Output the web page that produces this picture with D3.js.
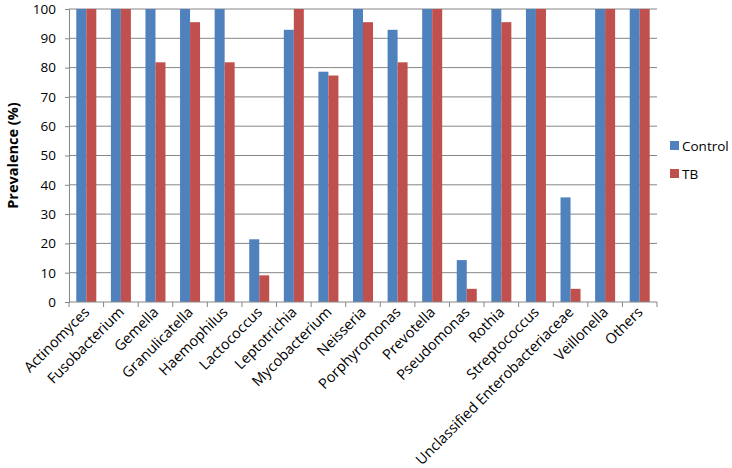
<!DOCTYPE html>
<html>
<head>
<meta charset="utf-8">
<script src="https://cdn.jsdelivr.net/npm/d3@7"></script>
<style>
  body { margin: 0; background: #fff; }
  svg { font-family: "Open Sans", "Noto Sans", sans-serif; }
</style>
</head>
<body>
<svg width="732" height="468"></svg>
<script>
const categories = ["Actinomyces", "Fusobacterium", "Gemella", "Granulicatella", "Haemophilus",
  "Lactococcus", "Leptotrichia", "Mycobacterium", "Neisseria", "Porphyromonas", "Prevotella",
  "Pseudomonas", "Rothia", "Streptococcus", "Unclassified Enterobacteriaceae", "Veillonella", "Others"];
const control = [100, 100, 100, 100, 100, 21.4, 92.9, 78.6, 100, 92.9, 100, 14.3, 100, 100, 35.7, 100, 100];
const tb = [100, 100, 81.8, 95.5, 81.8, 9.1, 100, 77.3, 95.5, 81.8, 100, 4.5, 95.5, 100, 4.5, 100, 100];
const seriesNames = ["Control", "TB"];
const colors = ["#4F81BD", "#C0504D"];
const yTicks = [0, 10, 20, 30, 40, 50, 60, 70, 80, 90, 100];

const svg = d3.select("svg");
const plotL = 69, plotR = 657, plotT = 9, plotB = 302;

const x = d3.scaleBand().domain(categories).range([plotL, plotR]);
const y = d3.scaleLinear().domain([0, 100]).range([plotB, plotT]);
const barW = 10;

// gridlines
svg.append("g")
  .selectAll("line")
  .data(yTicks.filter(t => t > 0))
  .enter().append("line")
  .attr("x1", plotL).attr("x2", plotR)
  .attr("y1", d => y(d)).attr("y2", d => y(d))
  .attr("stroke", "#868686").attr("stroke-width", 1);

// bars
const data = categories.map((c, i) => ({ cat: c, vals: [control[i], tb[i]] }));
const groups = svg.append("g").selectAll("g")
  .data(data)
  .enter().append("g");

groups.selectAll("rect")
  .data(d => d.vals.map((v, j) => ({ cat: d.cat, v: v, j: j })))
  .enter().append("rect")
  .attr("x", d => x(d.cat) + x.bandwidth() / 2 - barW + d.j * barW)
  .attr("width", barW)
  .attr("y", d => y(d.v))
  .attr("height", d => plotB - y(d.v))
  .attr("fill", d => colors[d.j]);

// y axis
const yAxis = svg.append("g")
  .attr("transform", `translate(${plotL},0)`)
  .call(d3.axisLeft(y).tickValues(yTicks).tickSize(4).tickPadding(9));
yAxis.select(".domain").attr("stroke", "#868686");
yAxis.selectAll(".tick line").attr("stroke", "#868686");
yAxis.selectAll("text").attr("font-size", 13.5).attr("fill", "#000")
  .attr("font-family", "Open Sans, sans-serif");

// x axis
const xAxis = svg.append("g").attr("transform", `translate(0,${plotB})`);
xAxis.append("line")
  .attr("x1", plotL).attr("x2", plotR)
  .attr("y1", 0).attr("y2", 0)
  .attr("stroke", "#868686");
const edges = categories.map(c => x(c)).concat([plotR]);
xAxis.selectAll(".xt")
  .data(edges)
  .enter().append("line")
  .attr("x1", d => d).attr("x2", d => d)
  .attr("y1", 0).attr("y2", 5)
  .attr("stroke", "#868686");
xAxis.selectAll("text")
  .data(categories)
  .enter().append("text")
  .attr("transform", d => `translate(${x(d) + x.bandwidth() / 2 + 4},${11}) rotate(-45)`)
  .attr("text-anchor", "end")
  .attr("font-size", 14.5)
  .attr("fill", "#000")
  .text(d => d);

// y title
svg.append("text")
  .attr("transform", `translate(18,${(plotT + plotB) / 2}) rotate(-90)`)
  .attr("text-anchor", "middle")
  .attr("font-size", 14.5)
  .attr("font-weight", "bold")
  .text("Prevalence (%)");

// legend
const legend = svg.append("g").selectAll("g")
  .data(seriesNames)
  .enter().append("g")
  .attr("transform", (d, i) => `translate(670,${141 + i * 28})`);
legend.append("rect")
  .attr("width", 9).attr("height", 9)
  .attr("fill", (d, i) => colors[i]);
legend.append("text")
  .attr("x", 12).attr("y", 9.5)
  .attr("font-size", 13.5)
  .text(d => d);
</script>
</body>
</html>
